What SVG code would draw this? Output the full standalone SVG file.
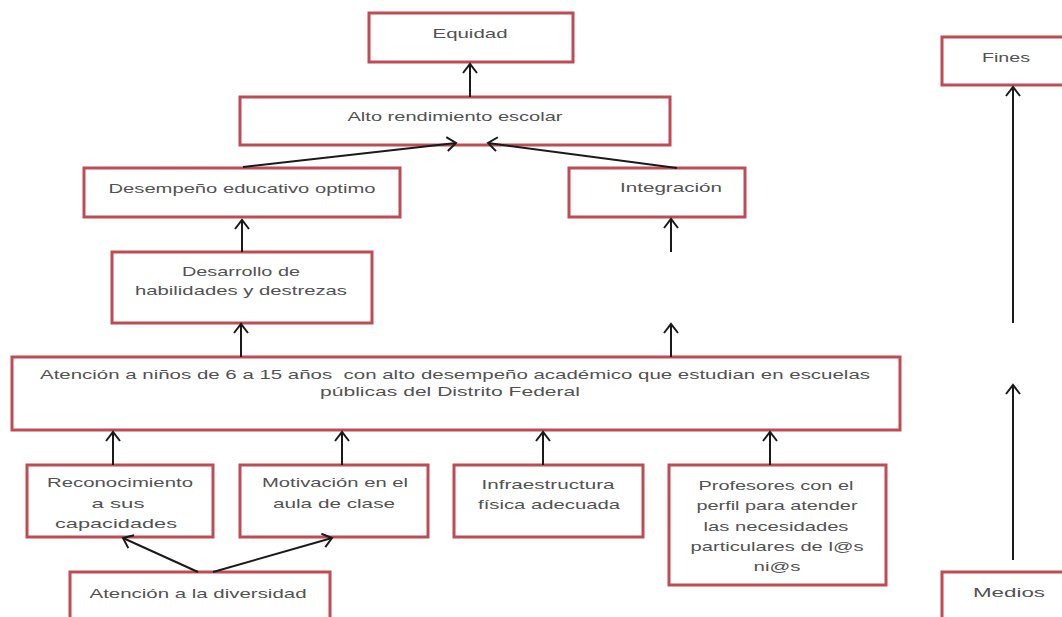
<svg xmlns="http://www.w3.org/2000/svg" width="1062" height="617" viewBox="0 0 1062 617">
<style>
.box{fill:#ffffff;stroke:#bd4c55;stroke-width:3}
.t{font-family:"Liberation Sans",Arial,sans-serif;font-size:13.5px;fill:#525252;text-anchor:middle}
.c{stroke:#1a1a1a;stroke-width:2;fill:none;marker-end:url(#ah)}
</style>
<defs>
<marker id="ah" markerUnits="userSpaceOnUse" markerWidth="18" markerHeight="18" refX="10" refY="8" orient="auto">
<path d="M1,1 L10,8 L1,15" fill="none" stroke="#1a1a1a" stroke-width="2"/>
</marker>
</defs>
<rect width="1062" height="617" fill="#ffffff"/>
<g id="equidad"><rect class="box" x="369" y="13" width="204" height="49"/><text class="t" x="470" y="38" textLength="75" lengthAdjust="spacingAndGlyphs">Equidad</text></g>
<g id="alto"><rect class="box" x="240" y="97" width="430" height="48"/><text class="t" x="455" y="121" textLength="215" lengthAdjust="spacingAndGlyphs">Alto rendimiento escolar</text></g>
<g id="desempeno"><rect class="box" x="84" y="168" width="316" height="49"/><text class="t" x="242" y="193" textLength="267" lengthAdjust="spacingAndGlyphs">Desempeño educativo optimo</text></g>
<g id="integracion"><rect class="box" x="569" y="168" width="176" height="49"/><text class="t" x="671" y="192" textLength="102" lengthAdjust="spacingAndGlyphs">Integración</text></g>
<g id="desarrollo"><rect class="box" x="112" y="252" width="260" height="71"/><text class="t" x="241" y="276" textLength="118" lengthAdjust="spacingAndGlyphs">Desarrollo de</text><text class="t" x="241" y="295" textLength="212" lengthAdjust="spacingAndGlyphs">habilidades y destrezas</text></g>
<g id="atencion"><rect class="box" x="12" y="357" width="888" height="73"/><text class="t" x="455" y="379" textLength="830" lengthAdjust="spacingAndGlyphs" xml:space="preserve" style="white-space:pre">Atención a niños de 6 a 15 años  con alto desempeño académico que estudian en escuelas</text><text class="t" x="450" y="396" textLength="260" lengthAdjust="spacingAndGlyphs">públicas del Distrito Federal</text></g>
<g id="reconocimiento"><rect class="box" x="27" y="465" width="186" height="72"/><text class="t" x="120" y="487" textLength="146" lengthAdjust="spacingAndGlyphs">Reconocimiento</text><text class="t" x="118" y="508" textLength="53" lengthAdjust="spacingAndGlyphs">a sus</text><text class="t" x="116" y="528" textLength="122" lengthAdjust="spacingAndGlyphs">capacidades</text></g>
<g id="motivacion"><rect class="box" x="240" y="465" width="188" height="72"/><text class="t" x="335" y="487" textLength="146" lengthAdjust="spacingAndGlyphs">Motivación en el</text><text class="t" x="334" y="508" textLength="122" lengthAdjust="spacingAndGlyphs">aula de clase</text></g>
<g id="infraestructura"><rect class="box" x="454" y="465" width="189" height="72"/><text class="t" x="548" y="489" textLength="133" lengthAdjust="spacingAndGlyphs">Infraestructura</text><text class="t" x="549" y="509" textLength="142" lengthAdjust="spacingAndGlyphs">física adecuada</text></g>
<g id="profesores"><rect class="box" x="669" y="465" width="217" height="120"/><text class="t" x="776" y="490" textLength="155" lengthAdjust="spacingAndGlyphs">Profesores con el</text><text class="t" x="777" y="510" textLength="161" lengthAdjust="spacingAndGlyphs">perfil para atender</text><text class="t" x="776" y="531" textLength="145" lengthAdjust="spacingAndGlyphs">las necesidades</text><text class="t" x="777" y="551" textLength="173" lengthAdjust="spacingAndGlyphs">particulares de l@s</text><text class="t" x="777" y="571" textLength="47" lengthAdjust="spacingAndGlyphs">ni@s</text></g>
<g id="diversidad"><rect class="box" x="70" y="572" width="260" height="60"/><text class="t" x="198" y="598" textLength="217" lengthAdjust="spacingAndGlyphs">Atención a la diversidad</text></g>
<g id="fines"><rect class="box" x="942" y="37" width="125" height="48"/><text class="t" x="1006" y="62" textLength="48" lengthAdjust="spacingAndGlyphs">Fines</text></g>
<g id="medios"><rect class="box" x="942" y="572" width="125" height="60"/><text class="t" x="1009" y="597" textLength="72" lengthAdjust="spacingAndGlyphs">Medios</text></g>
<g id="connectors">
<line class="c" x1="470" y1="97" x2="470" y2="64"/>
<line class="c" x1="243" y1="167" x2="456" y2="143"/>
<line class="c" x1="677" y1="168" x2="488" y2="143"/>
<line class="c" x1="242" y1="252" x2="242" y2="220"/>
<line class="c" x1="671" y1="252" x2="671" y2="219"/>
<line class="c" x1="241" y1="357" x2="241" y2="324"/>
<line class="c" x1="671" y1="357" x2="671" y2="324"/>
<line class="c" x1="113" y1="465" x2="113" y2="432"/>
<line class="c" x1="342" y1="465" x2="342" y2="432"/>
<line class="c" x1="543" y1="465" x2="543" y2="432"/>
<line class="c" x1="770" y1="465" x2="770" y2="432"/>
<line class="c" x1="198" y1="572" x2="123" y2="538"/>
<line class="c" x1="213" y1="572" x2="332" y2="538"/>
<line class="c" x1="1013" y1="323" x2="1013" y2="87"/>
<line class="c" x1="1013" y1="560" x2="1013" y2="385"/>
</g>
</svg>
